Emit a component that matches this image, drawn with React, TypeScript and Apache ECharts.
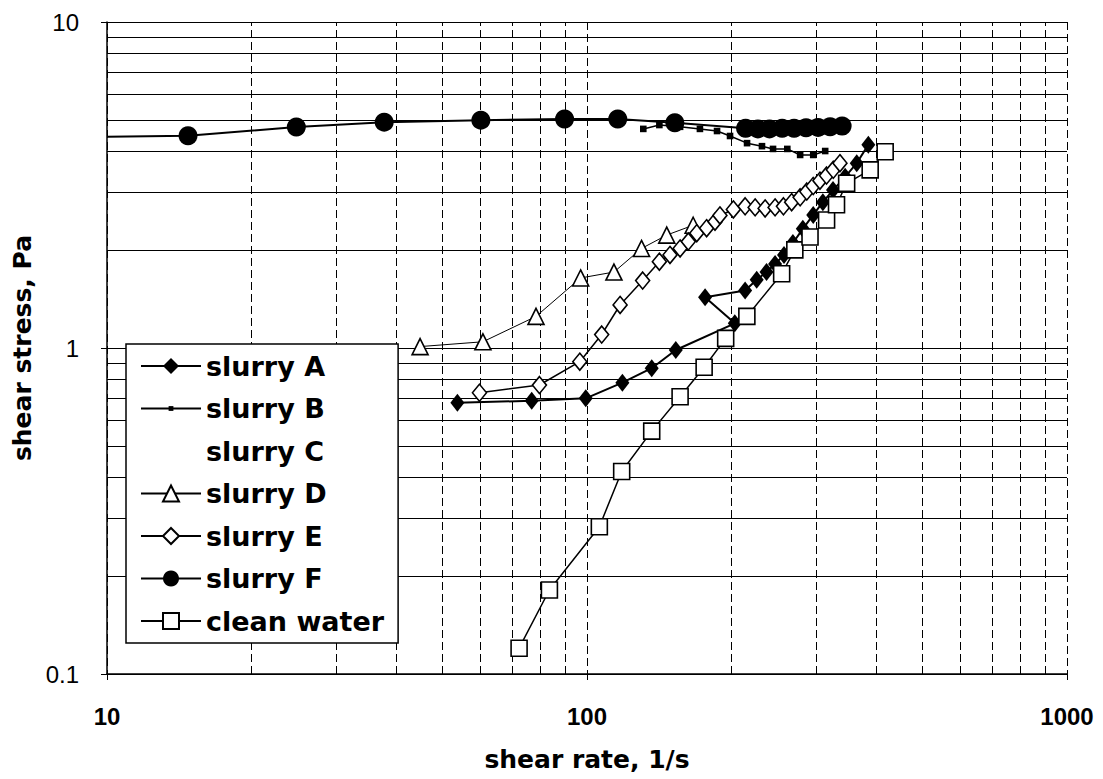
import React, { useEffect, useRef } from "react";
import * as echarts from "echarts";

// shear rate (1/s), shear stress (Pa)
const slurryA: number[][] = [
  [53.7, 0.679], [76.7, 0.689], [99.4, 0.701], [118.5, 0.783], [136.4, 0.867], [153.1, 0.986],
  [203.2, 1.19], [176.2, 1.43], [213.5, 1.5], [225.7, 1.62], [236.6, 1.71], [246.5, 1.81],
  [257.3, 1.93], [268.5, 2.1], [281.6, 2.32], [296, 2.56], [310, 2.8], [325.5, 3.05],
  [345, 3.35], [364.7, 3.69], [385.6, 4.2],
];
const slurryB: number[][] = [
  [131, 4.7], [141.5, 4.83], [156.3, 4.77], [171.9, 4.7], [186.6, 4.63], [198.6, 4.47],
  [215.5, 4.25], [231.5, 4.16], [244.1, 4.08], [261.4, 4.08], [278, 3.91], [296, 3.91], [313.5, 4.02],
];
const slurryC: number[][] = [];
const slurryD: number[][] = [
  [44.9, 1.01], [60.7, 1.045], [78.3, 1.25], [97.0, 1.64], [113.8, 1.71], [129.9, 2.02],
  [146.6, 2.22], [166.4, 2.38],
];
const slurryE: number[][] = [
  [59.7, 0.729], [79.6, 0.77], [96.6, 0.908], [107.3, 1.1], [117.2, 1.355], [130.6, 1.61],
  [141.5, 1.84], [148.9, 1.93], [156.3, 2.02], [162.6, 2.12], [169.3, 2.25], [177.5, 2.33],
  [184.8, 2.44], [189.2, 2.55], [201.8, 2.66], [213.5, 2.72], [224, 2.7], [235, 2.68],
  [246.5, 2.7], [256.6, 2.72], [266.9, 2.8], [278, 2.9], [287, 3.02], [296, 3.14],
  [305.7, 3.26], [315.5, 3.38], [325.9, 3.52], [336.5, 3.69],
];
const slurryFStart: number[] = [10, 4.45];
const slurryF: number[][] = [
  [14.75, 4.48], [24.8, 4.76], [37.8, 4.93], [60.1, 5.0], [89.8, 5.04], [115.9, 5.04],
  [152.4, 4.91], [214, 4.72], [227, 4.7], [240, 4.7], [255, 4.72], [270, 4.72], [286, 4.74],
  [303, 4.75], [321, 4.77], [340, 4.8],
];
const cleanWater: number[][] = [
  [72.2, 0.12], [83.5, 0.181], [106.1, 0.283], [118.1, 0.418], [136.4, 0.556], [156.3, 0.709],
  [175.4, 0.873], [194.5, 1.07], [215.3, 1.25], [254.4, 1.69], [271, 2.0], [291.5, 2.19],
  [315.6, 2.47], [331, 2.75], [347.5, 3.2], [389, 3.52], [418, 4.0],
];

const xMinorGrid = [20, 30, 40, 50, 60, 70, 80, 90, 200, 300, 400, 500, 600, 700, 800, 900];
const yMinorGrid = [0.2, 0.3, 0.4, 0.5, 0.6, 0.7, 0.8, 0.9, 2, 3, 4, 5, 6, 7, 8, 9];

const seriesNames = ["slurry A", "slurry B", "slurry C", "slurry D", "slurry E", "slurry F", "clean water"];

// small dot inside a larger invisible bounding box
const smallDot = "path://M0,0L0,0M10,10L10,10M3.5,3.5L6.5,3.5L6.5,6.5L3.5,6.5Z";

export default function App() {
  const ref = useRef<HTMLDivElement>(null);
  useEffect(() => {
    const chart = echarts.init(ref.current!, null, { renderer: "svg" });
    const arial = "'Liberation Sans', Arial, sans-serif";
    const wide = "'DejaVu Sans', sans-serif";
    const mk = (name: string, data: any[], symbol: string, size: any, filled: boolean, lw: number) => ({
      name,
      type: "line",
      data,
      symbol,
      symbolSize: size,
      showSymbol: true,
      showAllSymbol: true,
      lineStyle: { color: "#000", width: lw },
      itemStyle: {
        color: filled ? "#000" : "#fff",
        borderColor: "#000",
        borderWidth: filled ? 0 : 1.6,
      },
      emphasis: { disabled: true },
      z: 3,
    });
    chart.setOption({
      animation: false,
      backgroundColor: "#fff",
      grid: { left: 107, right: 36, top: 22, bottom: 105 },
      xAxis: {
        type: "log",
        logBase: 10,
        min: 10,
        max: 1000,
        name: "shear rate, 1/s",
        nameLocation: "middle",
        nameGap: 73,
        nameTextStyle: { fontFamily: wide, fontWeight: "bold", fontSize: 25, color: "#000" },
        axisLine: { show: true, lineStyle: { color: "#000", width: 1.5 } },
        axisTick: { show: true, length: 6, lineStyle: { color: "#000" } },
        axisLabel: {
          fontFamily: arial,
          fontWeight: "bold",
          fontSize: 24,
          color: "#000",
          margin: 30,
          formatter: (v: number) => String(v),
        },
        splitLine: { show: true, lineStyle: { color: "#000", width: 1, type: [8, 4] } },
      },
      yAxis: {
        type: "log",
        logBase: 10,
        min: 0.1,
        max: 10,
        name: "shear stress, Pa",
        nameLocation: "middle",
        nameGap: 69,
        nameTextStyle: { fontFamily: wide, fontWeight: "bold", fontSize: 25, color: "#000" },
        axisLine: { show: true, lineStyle: { color: "#000", width: 1.5 } },
        axisTick: { show: true, length: 6, lineStyle: { color: "#000" } },
        axisLabel: {
          fontFamily: arial,
          fontSize: 24,
          color: "#000",
          margin: 28,
          formatter: (v: number) => String(v),
        },
        splitLine: { show: true, lineStyle: { color: "#000", width: 1.2, type: "solid" } },
      },
      legend: {
        orient: "vertical",
        left: 126,
        top: 344,
        padding: [7, 14, 7, 14],
        itemWidth: 60,
        itemHeight: 20,
        itemGap: 12.5,
        backgroundColor: "#fff",
        borderColor: "#000",
        borderWidth: 1.5,
        selectedMode: false,
        textStyle: { fontFamily: wide, fontWeight: "bold", fontSize: 27, color: "#000", lineHeight: 30 },
        data: seriesNames.map((n) =>
          n === "slurry C" ? { name: n, itemStyle: { opacity: 0 }, lineStyle: { opacity: 0 } } : { name: n }
        ),
      },
      series: [
        {
          name: "minorGrid",
          type: "line",
          data: [],
          silent: true,
          z: 1,
          markLine: {
            silent: true,
            z: 1,
            symbol: ["none", "none"],
            label: { show: false },
            emphasis: { disabled: true },
            data: [
              ...xMinorGrid.map((v) => ({ xAxis: v, lineStyle: { type: [8, 4], color: "#000", width: 1 } })),
              ...yMinorGrid.map((v) => ({ yAxis: v, lineStyle: { type: "solid", color: "#000", width: 1.2 } })),
            ],
          },
        },
        mk("slurry A", slurryA, "diamond", [14, 18], true, 2),
        mk("slurry B", slurryB, smallDot, 22, true, 1.5),
        {
          name: "slurry C",
          type: "line",
          data: slurryC,
          symbol: "none",
          lineStyle: { opacity: 0, width: 0 },
          itemStyle: { opacity: 0 },
        },
        mk("slurry D", slurryD, "triangle", 16, false, 1),
        mk("slurry E", slurryE, "diamond", [14, 17], false, 1.5),
        mk(
          "slurry F",
          [{ value: slurryFStart, symbol: "none" }, ...slurryF],
          "circle",
          19,
          true,
          2
        ),
        mk("clean water", cleanWater, "rect", 16, false, 1.5),
      ],
    });
    return () => chart.dispose();
  }, []);
  return (
    <div
      ref={ref}
      style={{ position: "fixed", left: 0, top: 0, width: 1103, height: 779, background: "#fff" }}
    />
  );
}
